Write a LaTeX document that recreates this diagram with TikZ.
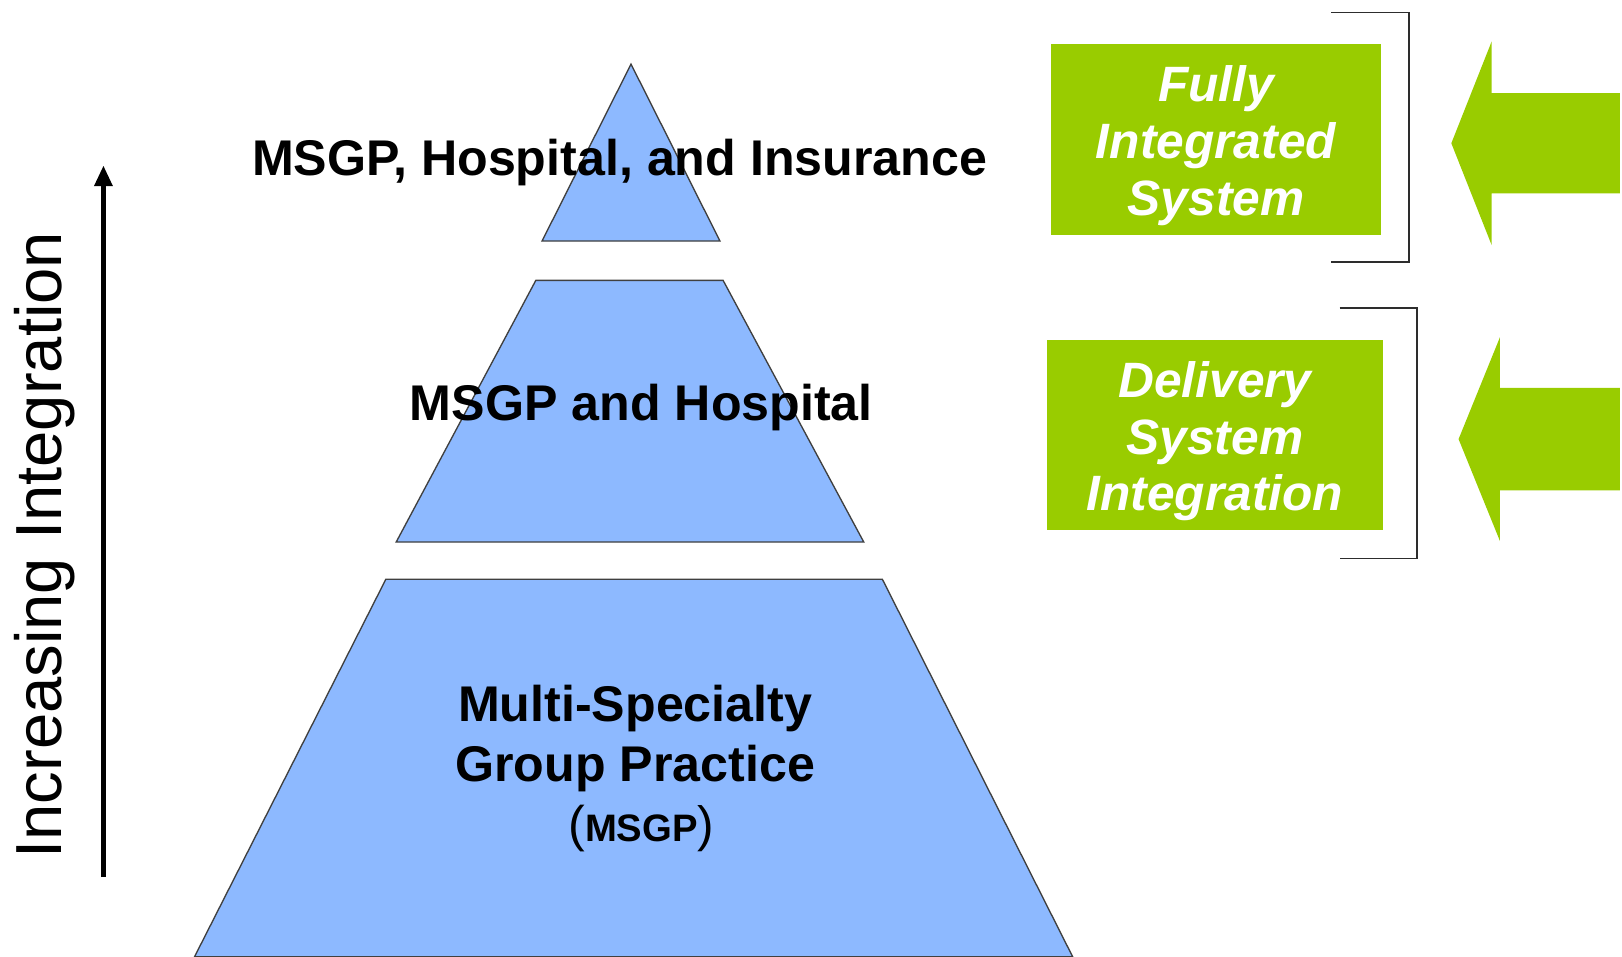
\documentclass[tikz,border=0pt]{standalone}
\usepackage{fontspec}
\setmainfont{Liberation Sans}
\usetikzlibrary{arrows.meta}
\definecolor{pyrblue}{RGB}{141,185,255}
\definecolor{lime}{RGB}{153,204,0}
\definecolor{brk}{RGB}{45,45,45}
\begin{document}
\begin{tikzpicture}[x=1pt,y=-1pt,
  tier/.style={fill=pyrblue,draw=black!75,line width=1.3pt,line join=miter},
  lbl/.style={font=\fontsize{48.5}{58}\selectfont\bfseries,align=center,inner sep=0pt},
  gbox/.style={fill=lime,draw=none,inner sep=0pt},
  gtext/.style={text=white,font=\fontsize{48}{55}\selectfont\bfseries\itshape,align=center,inner sep=0pt},
  brack/.style={draw=brk,line width=1.6pt},
  garrow/.style={fill=lime,draw=none},
  upline/.style={line width=4.5pt,-{Triangle[length=20pt,width=17pt]}}]
\useasboundingbox (0,0) rectangle (1568,925);
% pyramid tiers
\path[tier] (610,62) -- (696,233) -- (524,233) -- cycle;
\path[tier] (518,271) -- (699,271) -- (835,524) -- (383,524) -- cycle;
\path[tier] (373,560) -- (853,560) -- (1037,925) -- (188,925) -- cycle;
% tier labels
\node[lbl] (top) at (599,157) {MSGP, Hospital, and Insurance};
\node[lbl] (mid) at (620,394) {MSGP and Hospital};
\node[lbl] (base) at (614,743) {Multi-Specialty\\Group Practice\\\hspace*{12pt}{\mdseries(}\fontsize{37}{58}\selectfont MSGP\fontsize{48}{58}\selectfont{\mdseries)}};
% vertical arrow and label
\coordinate (ab) at (100,848);
\coordinate (at) at (100,160);
\draw[upline] (ab) -- (at);
\node[rotate=90,font=\fontsize{63}{63}\selectfont,inner sep=0pt] (inc) at (43,527) {Increasing Integration};
% green boxes
\node[gbox,minimum width=319pt,minimum height=184pt] (fis) at (1175.5,135) {};
\node[gtext] (fist) at ([yshift=-5.5pt]fis.center) {Fully\\Integrated\\System};
\node[gbox,minimum width=325pt,minimum height=183pt] (dsi) at (1174.5,420.5) {};
\node[gtext] (dsit) at ([yshift=-6pt]dsi.center) {Delivery\\System\\Integration};
% brackets
\coordinate (b1a) at (1287,12);
\coordinate (b1b) at (1287,253);
\draw[brack] (b1a) -| (1362,253) -- (b1b);
\coordinate (b2a) at (1295,298);
\coordinate (b2b) at (1295,540);
\draw[brack] (b2a) -| (1370,540) -- (b2b);
% green arrows
\path[garrow] (1566,90) -- (1442,90) -- (1442,40) -- (1403,138.5) -- (1442,237) -- (1442,187) -- (1566,187) -- cycle;
\path[garrow] (1566,375) -- (1450,375) -- (1450,326) -- (1410,424.5) -- (1450,523) -- (1450,474) -- (1566,474) -- cycle;
\end{tikzpicture}
\end{document}
